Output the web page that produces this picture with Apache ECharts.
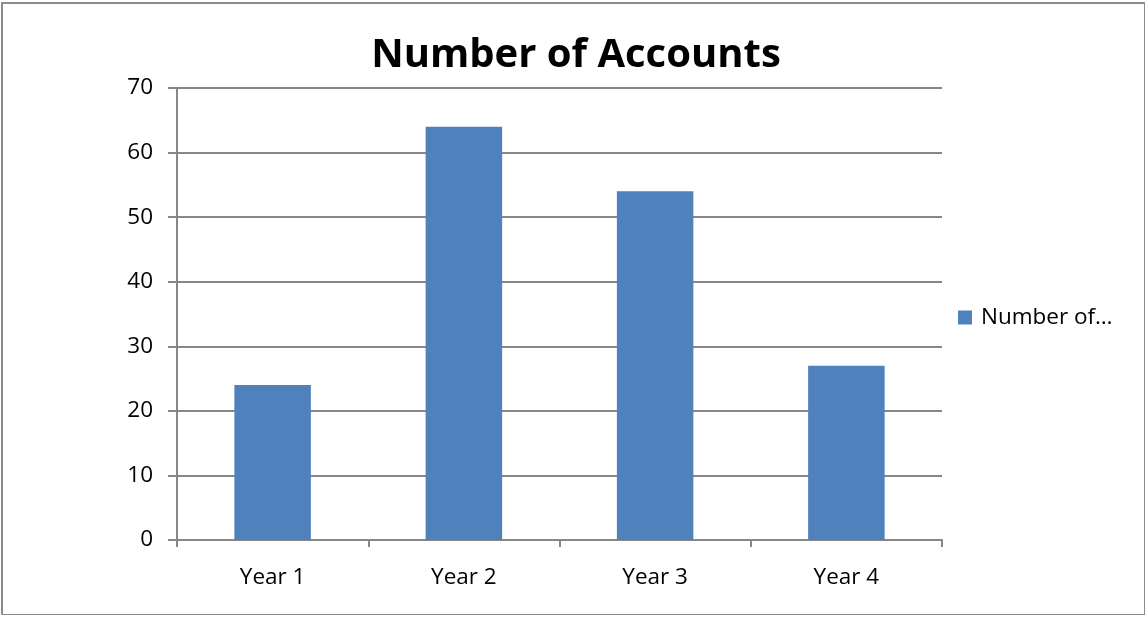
<!DOCTYPE html>
<html><head><meta charset="utf-8">
<script src="https://cdn.jsdelivr.net/npm/echarts@6/dist/echarts.min.js"></script>
<style>
html,body{margin:0;padding:0;background:#fff;}
#frame{position:absolute;left:1px;top:2px;width:1144px;height:613px;border:2px solid #8c8c8c;border-right-width:1px;border-bottom-width:1px;box-sizing:border-box;}
#chart{position:absolute;left:0;top:0;width:1148px;height:618px;}
</style></head>
<body>
<div id="frame"></div>
<div id="chart"></div>
<script>
const categories = ['Year 1', 'Year 2', 'Year 3', 'Year 4'];
const accounts = [24, 64, 54, 27];
const seriesName = 'Number of Accounts';
const legendLabel = 'Number of…';

const FONT = 'Open Sans';
const chart = echarts.init(document.getElementById('chart'), null, {renderer: 'canvas'});
chart.setOption({
  animation: false,
  backgroundColor: 'transparent',
  title: {
    text: 'Number of Accounts', left: 571, top: 31, textAlign: 'center',
    textStyle: {fontFamily: FONT, fontSize: 40, fontWeight: 'bold', color: '#000'}
  },
  legend: {
    left: 953, top: 301, itemWidth: 14, itemHeight: 14, itemGap: 0,
    icon: 'rect',
    formatter: () => legendLabel,
    textStyle: {fontFamily: FONT, fontSize: 22.5, color: '#000', padding: [0,0,0,4]},
    data: [seriesName]
  },
  grid: {left: 177, right: 206, top: 88, bottom: 78, containLabel: false},
  xAxis: {
    type: 'category', data: categories,
    axisLine: {lineStyle: {color: '#878787', width: 2}},
    axisTick: {show: true, length: 7, inside: false, lineStyle: {color: '#878787', width: 2}},
    axisLabel: {fontFamily: FONT, fontSize: 22.5, color: '#000', margin: 26}
  },
  yAxis: {
    type: 'value', min: 0, max: 70, interval: 10,
    axisLine: {show: true, lineStyle: {color: '#878787', width: 2}},
    axisTick: {show: true, length: 9, lineStyle: {color: '#878787', width: 2}},
    splitLine: {lineStyle: {color: '#878787', width: 2}},
    axisLabel: {fontFamily: FONT, fontSize: 22.5, color: '#000', margin: 24}
  },
  series: [{
    name: seriesName, type: 'bar', data: accounts, barWidth: '40%',
    itemStyle: {color: '#4F81BD'}
  }]
});
</script>
</body></html>
